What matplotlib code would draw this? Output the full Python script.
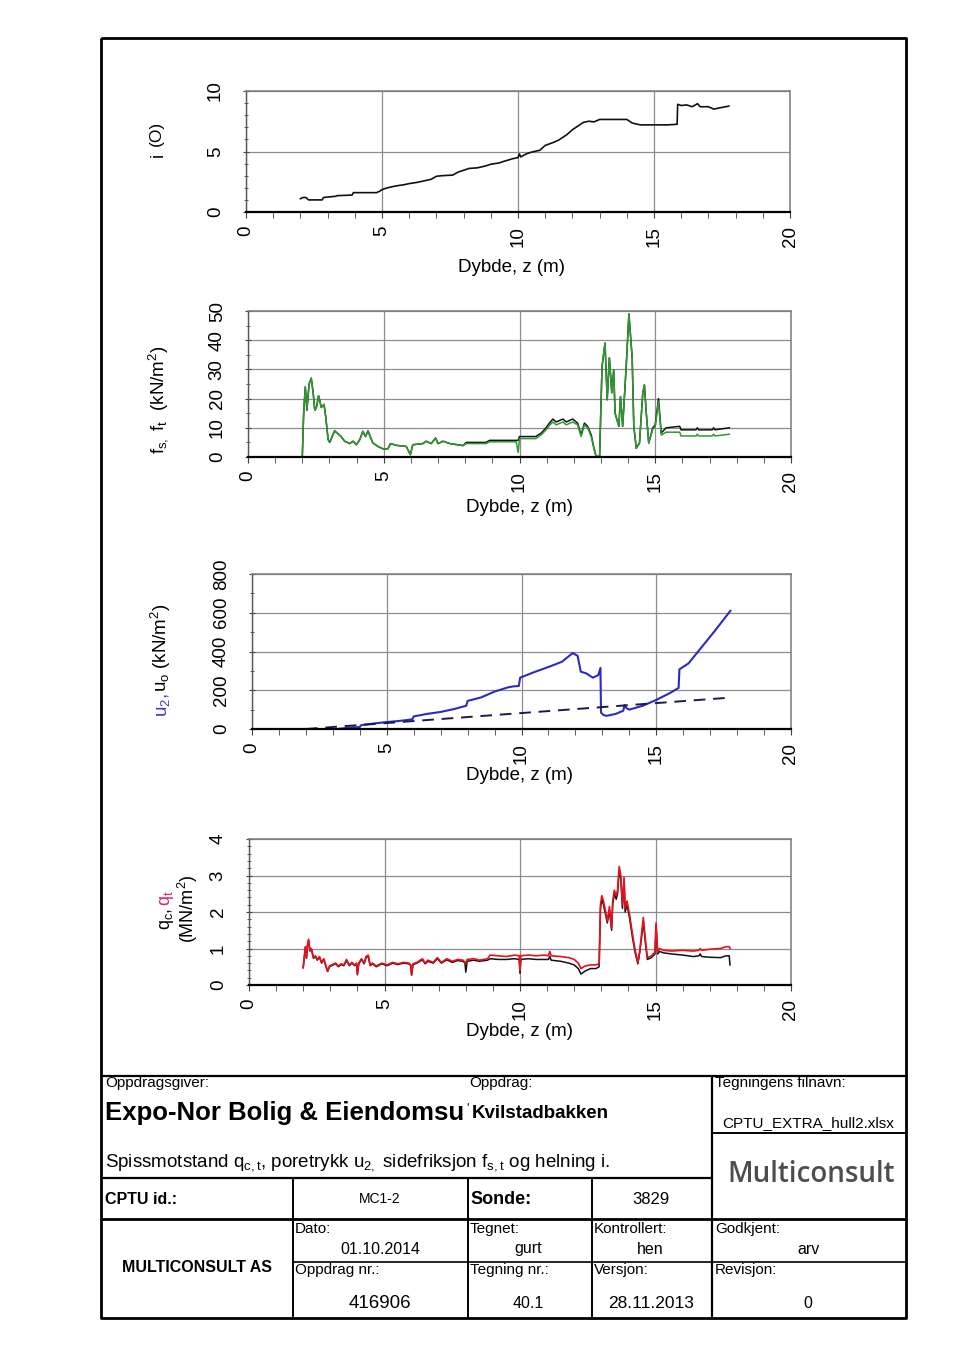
import matplotlib
matplotlib.use("Agg")
import matplotlib.pyplot as plt
from matplotlib.ticker import MultipleLocator
import numpy as np

plt.rcParams['font.family'] = ['Liberation Sans', 'DejaVu Sans']
plt.rcParams['mathtext.fontset'] = 'custom'
plt.rcParams['mathtext.rm'] = 'Liberation Sans'
plt.rcParams['mathtext.it'] = 'Liberation Sans:italic'
plt.rcParams['mathtext.bf'] = 'Liberation Sans:bold'

W, H = 960, 1358

# ---------------- data ----------------
# Panel 1: inclination i (deg)
incl_z = [2.0, 2.1, 2.2, 2.3, 2.35, 2.8, 2.85, 3.3, 3.35, 3.9, 3.95, 4.8, 4.9, 5.0, 5.2, 5.5,
          5.8, 6.0, 6.3, 6.5, 6.8, 7.0, 7.2, 7.6, 7.8, 8.0, 8.2, 8.5, 8.8, 9.0, 9.3, 9.5, 9.8,
          10.0, 10.05, 10.1, 10.3, 10.5, 10.8, 11.0, 11.3, 11.5, 11.8, 12.0, 12.2, 12.4, 12.6,
          12.8, 13.0, 13.5, 14.0, 14.2, 14.5, 15.0, 15.5, 15.85, 15.87, 16.0, 16.2, 16.4, 16.6,
          16.7, 17.0, 17.2, 17.4, 17.75]
incl_deg = [1.1, 1.2, 1.2, 1.0, 1.0, 1.0, 1.2, 1.3, 1.35, 1.4, 1.6, 1.6, 1.7, 1.85, 2.0, 2.15,
            2.25, 2.35, 2.45, 2.55, 2.7, 2.95, 3.0, 3.05, 3.3, 3.45, 3.6, 3.65, 3.8, 3.95, 4.05,
            4.2, 4.4, 4.5, 4.8, 4.55, 4.8, 4.95, 5.1, 5.5, 5.75, 5.95, 6.4, 6.8, 7.1, 7.4, 7.5,
            7.45, 7.65, 7.65, 7.65, 7.35, 7.2, 7.2, 7.2, 7.25, 8.9, 8.8, 8.85, 8.7, 8.95, 8.7,
            8.7, 8.5, 8.6, 8.75]

# Panel 2: sleeve friction fs (green) and ft (black), kN/m2
fric_z = [2.00, 2.05, 2.11, 2.17, 2.25, 2.33, 2.40, 2.46, 2.52, 2.60, 2.70, 2.80, 2.86, 2.95,
          3.01, 3.10, 3.19, 3.31, 3.43, 3.56, 3.74, 3.87, 3.99, 4.12, 4.23, 4.33, 4.42, 4.50,
          4.60, 4.79, 4.97, 5.15, 5.25, 5.46, 5.83, 5.98, 6.07, 6.44, 6.56, 6.75, 6.91, 7.00,
          7.18, 7.43, 7.92, 8.04, 8.77, 8.90, 9.88, 9.95, 10.00, 10.60, 10.80, 10.98, 11.10,
          11.23, 11.35, 11.60, 11.72, 11.96, 12.14, 12.27, 12.39, 12.51, 12.64, 12.73, 12.82,
          12.95, 13.04, 13.15, 13.23, 13.31, 13.40, 13.47, 13.52, 13.66, 13.72, 13.80, 13.93,
          14.03, 14.15, 14.21, 14.30, 14.42, 14.54, 14.60, 14.67, 14.76, 14.91, 15.00, 15.12,
          15.22, 15.40, 15.90, 15.95, 16.50, 16.55, 16.60, 17.10, 17.15, 17.20, 17.73]
fs_green = [0, 15, 24, 16, 25, 27, 22, 16, 17, 21, 17, 18, 14, 6,
            5, 7, 9, 8, 7, 5.4, 4.6, 5.4, 4.2, 6, 8.8, 7, 9, 7,
            4.8, 3.6, 2.8, 2.8, 4.6, 4.0, 3.6, 0.8, 4.2, 4.6, 5.4, 4.6, 6.5, 4.6,
            5.4, 4.6, 3.9, 4.6, 4.6, 5.2, 5.2, 1.5, 6.3, 6.3, 7.6, 9.3, 10.8,
            12.0, 11.0, 12.0, 11.0, 12.0, 11.0, 7.0, 11.0, 10.0, 7.0, 3.3, 0.2,
            0.2, 31, 39, 19.6, 34, 22, 29.8, 15, 10.5, 20.7, 10.5, 31,
            49, 34, 10.5, 3, 4.8, 21.9, 24.7, 15, 4.8, 9.5, 10.5, 19,
            7.5, 8.5, 8.5, 7.2, 7.2, 7.8, 7.2, 7.2, 7.8, 7.2, 7.8]
ft_black = [0, 15, 24, 16, 25, 27, 22, 16, 17, 21, 17, 18, 14, 6,
            5, 7, 9, 8, 7, 5.4, 4.6, 5.4, 4.2, 6, 8.8, 7, 9, 7,
            4.8, 3.6, 2.8, 2.8, 4.6, 4.0, 3.6, 0.8, 4.2, 4.6, 5.4, 4.6, 6.5, 4.6,
            5.4, 4.6, 3.9, 5.0, 5.0, 5.7, 5.7, 5.7, 7.0, 7.0, 8.2, 10.0, 11.6,
            13.0, 12.0, 13.0, 12.0, 13.0, 11.6, 7.6, 11.6, 10.5, 7.6, 3.6, 0.2,
            0.2, 31, 39, 19.6, 34, 22, 29.8, 15, 10.5, 20.7, 10.5, 31,
            49, 34, 10.5, 3, 4.8, 21.9, 24.7, 15, 4.8, 10, 11, 20,
            8.2, 10, 10.5, 9.3, 9.3, 10, 9.3, 9.3, 10, 9.3, 10]

# Panel 3: pore pressure u2 (blue) and hydrostatic u0 (dashed), kN/m2
u2_z = [2.0, 2.5, 3.0, 3.5, 3.7, 4.0, 4.05, 4.5, 5.0, 5.5, 5.95, 6.0, 6.5, 7.0, 7.5, 7.95,
        8.0, 8.5, 9.0, 9.5, 9.7, 9.9, 9.95, 10.5, 11.0, 11.5, 11.9, 12.08, 12.2, 12.4, 12.65,
        12.85, 12.93, 12.95, 13.04, 13.16, 13.5, 13.78, 13.82, 13.9, 14.0, 14.5, 15.0, 15.5,
        15.83, 15.86, 16.2, 16.7, 17.2, 17.75]
u2_val = [0, -2, -2, 5, 8, 10, 20, 28, 36, 42, 50, 65, 78, 88, 103, 120,
          145, 163, 193, 215, 220, 222, 265, 295, 320, 347, 392, 378, 296, 287, 265,
          278, 315, 85, 72, 68, 78, 95, 124, 107, 100, 120, 150, 185,
          212, 308, 339, 425, 511, 610]
u0_z = [2.0, 17.75]
u0_val = [0, 162]

# Panel 4: cone resistance qc (black) and qt (red), MN/m2
q_z = [2.0, 2.08, 2.12, 2.16, 2.2, 2.25, 2.3, 2.38, 2.45, 2.52, 2.6, 2.68, 2.76, 2.83, 2.9,
       2.97, 3.05, 3.2, 3.3, 3.4, 3.5, 3.6, 3.7, 3.8, 3.9, 3.97, 4.0, 4.05, 4.15, 4.25, 4.32,
       4.4, 4.47, 4.55, 4.7, 4.9, 5.1, 5.3, 5.5, 5.7, 5.9, 5.97, 6.0, 6.05, 6.2, 6.4, 6.5,
       6.6, 6.8, 6.95, 7.1, 7.3, 7.5, 7.7, 7.9, 7.97, 8.0, 8.05, 8.3, 8.5, 8.8, 8.9, 9.2,
       9.5, 9.8, 9.97, 10.0, 10.03, 10.3, 10.6, 10.9, 11.05, 11.1, 11.15, 11.5, 11.8, 12.0,
       12.15, 12.25, 12.4, 12.6, 12.8, 12.92, 12.97, 13.02, 13.08, 13.15, 13.22, 13.3, 13.38,
       13.42, 13.48, 13.55, 13.6, 13.66, 13.72, 13.78, 13.84, 13.88, 13.95, 14.05, 14.15,
       14.25, 14.35, 14.42, 14.5, 14.55, 14.62, 14.7, 14.85, 14.98, 15.02, 15.08, 15.15,
       15.3, 15.6, 16.0, 16.4, 16.6, 16.65, 16.7, 17.0, 17.4, 17.6, 17.72, 17.75]
qt_red = [0.48, 1.05, 0.75, 1.1, 1.25, 0.95, 1.0, 0.75, 0.8, 0.7, 0.78, 0.62, 0.72, 0.55, 0.38,
          0.52, 0.55, 0.6, 0.52, 0.58, 0.55, 0.7, 0.55, 0.62, 0.55, 0.6, 0.3, 0.6, 0.72, 0.6, 0.78,
          0.82, 0.55, 0.6, 0.52, 0.6, 0.55, 0.62, 0.58, 0.62, 0.6, 0.55, 0.28, 0.58, 0.62, 0.72, 0.6,
          0.68, 0.62, 0.75, 0.62, 0.72, 0.65, 0.7, 0.68, 0.62, 0.6, 0.7, 0.72, 0.68, 0.72, 0.82, 0.8,
          0.78, 0.82, 0.8, 0.4, 0.8, 0.82, 0.8, 0.82, 0.8, 0.92, 0.8, 0.78, 0.75, 0.7,
          0.6, 0.45, 0.52, 0.55, 0.55, 0.58, 2.2, 2.45, 2.3, 2.05, 1.75, 2.15, 1.55,
          2.3, 2.6, 2.45, 2.6, 3.25, 3.0, 2.2, 2.95, 2.1, 2.3, 1.9, 1.4,
          0.95, 0.62, 0.95, 1.5, 1.85, 1.3, 0.75, 0.8, 0.9, 1.7, 0.9, 1.0,
          0.95, 0.93, 0.95, 0.93, 0.95, 1.0, 0.95, 0.98, 1.0, 1.05, 1.05, 1.0]
qc_black = [0.47, 1.03, 0.73, 1.08, 1.22, 0.93, 0.98, 0.73, 0.78, 0.68, 0.76, 0.6, 0.7, 0.53, 0.37,
            0.5, 0.53, 0.58, 0.5, 0.56, 0.53, 0.67, 0.53, 0.6, 0.53, 0.58, 0.28, 0.58, 0.7, 0.58, 0.75,
            0.79, 0.53, 0.58, 0.5, 0.58, 0.53, 0.6, 0.56, 0.6, 0.58, 0.53, 0.27, 0.56, 0.6, 0.69, 0.58,
            0.65, 0.6, 0.72, 0.6, 0.69, 0.62, 0.67, 0.65, 0.6, 0.35, 0.65, 0.68, 0.65, 0.68, 0.72, 0.7,
            0.7, 0.72, 0.7, 0.32, 0.7, 0.72, 0.7, 0.7, 0.7, 0.78, 0.68, 0.65, 0.6, 0.55,
            0.45, 0.3, 0.38, 0.45, 0.45, 0.5, 2.1, 2.35, 2.2, 1.95, 1.7, 2.05, 1.5,
            2.2, 2.5, 2.35, 2.5, 3.15, 2.9, 2.1, 2.85, 2.0, 2.2, 1.8, 1.3,
            0.88, 0.58, 0.9, 1.4, 1.75, 1.2, 0.7, 0.75, 0.85, 1.6, 0.85, 0.92,
            0.88, 0.85, 0.82, 0.78, 0.8, 0.85, 0.78, 0.76, 0.75, 0.8, 0.8, 0.55]

x_ticks = [0, 5, 10, 15, 20]
x_label = "Dybde, z (m)"

# ---------------- figure ----------------
fig = plt.figure(figsize=(W / 100, H / 100), dpi=100)


def px_axes(l, t, r, b):
    return fig.add_axes([l / W, 1 - b / H, (r - l) / W, (b - t) / H])


TICK_FS = 13.5
GRID_C = '#8c8c8c'


def style(ax, ymax, ystep, yminor):
    ax.set_xlim(0, 20)
    ax.set_ylim(0, ymax)
    ax.set_xticks(x_ticks)
    ax.xaxis.set_minor_locator(MultipleLocator(1))
    ax.set_yticks(np.arange(0, ymax + ystep / 2, ystep))
    ax.yaxis.set_minor_locator(MultipleLocator(yminor))
    ax.grid(True, which='major', color=GRID_C, lw=0.9)
    ax.set_axisbelow(True)
    for s in ['top', 'right']:
        ax.spines[s].set_color('#7a7a7a')
        ax.spines[s].set_linewidth(1.1)
    ax.spines['left'].set_color('#555555')
    ax.spines['left'].set_linewidth(1.0)
    ax.spines['bottom'].set_color('black')
    ax.spines['bottom'].set_linewidth(1.6)
    ax.tick_params(axis='x', which='both', direction='out', colors='#444444', labelcolor='black',
                   labelsize=TICK_FS, labelrotation=90, pad=6)
    ax.tick_params(axis='x', which='major', length=4)
    ax.tick_params(axis='x', which='minor', length=4)
    ax.tick_params(axis='y', which='both', direction='inout', colors='#444444', labelcolor='black',
                   labelsize=TICK_FS, pad=14)
    ax.tick_params(axis='y', which='major', length=4)
    ax.tick_params(axis='y', which='minor', length=3)
    for lab in ax.get_yticklabels():
        lab.set_rotation(90)
        lab.set_va('center')
    ax.set_facecolor('white')


ax1 = px_axes(246, 91, 790, 212)
ax1.plot(incl_z, incl_deg, color='#111111', lw=1.2)
style(ax1, 10, 5, 1)

ax2 = px_axes(248, 311, 791, 457)
ax2.plot(fric_z, ft_black, color='#111111', lw=1.1)
ax2.plot(fric_z, fs_green, color='#2e9a2e', lw=1.1)
style(ax2, 50, 10, 5)

ax3 = px_axes(252, 574, 791, 729)
ax3.plot(u2_z, u2_val, color='#2b2bbf', lw=1.5)
ax3.plot(u0_z, u0_val, color='#1a1a50', lw=1.4, ls=(0, (6, 4)))
style(ax3, 800, 200, 100)

ax4 = px_axes(249, 839, 791, 985)
ax4.plot(q_z, qc_black, color='#111111', lw=1.1)
ax4.plot(q_z, qt_red, color='#e8101e', lw=1.2)
style(ax4, 4, 1, 0.2)

for (xc, yc) in [(511, 268), (519, 507), (520, 776), (519, 1032)]:
    fig.text(xc / W, 1 - yc / H, x_label, ha='center', va='center', fontsize=13.5)

renderer = fig.canvas.get_renderer()


def vlabel(x_base, y_center, pieces, fs=13.5):
    ts = []
    for s, c in pieces:
        t = fig.text(0, 0, s, color=c, rotation=90, rotation_mode='anchor',
                     ha='left', va='baseline', fontsize=fs)
        ts.append(t)
    hs = [t.get_window_extent(renderer).height for t in ts]
    total = sum(hs)
    y0 = (H - y_center) - total / 2
    for t, h in zip(ts, hs):
        t.set_position((x_base / W, y0 / H))
        y0 += h


vlabel(163, 155, [("i", 'black')])
vlabel(161, 133, [("(O)", 'black')], fs=12.5)
vlabel(163, 400, [(r"f$\mathregular{_{s,}}$ f$\mathregular{_{t}}$  (kN/m$\mathregular{^2}$)", 'black')])
vlabel(167, 660, [(r"u$\mathregular{_2}$, ", '#3a3ac8'), (r"u$\mathregular{_o}$ (kN/m$\mathregular{^2}$)", 'black')])
vlabel(170, 910, [(r"q$\mathregular{_c}$, ", 'black'), (r"q$\mathregular{_t}$", '#e0206a')], fs=13)
vlabel(194, 909, [(r"(MN/m$\mathregular{^2}$)", 'black')], fs=13)

# ---------------- frame & title block ----------------
ov = fig.add_axes([0, 0, 1, 1], zorder=5)
ov.set_xlim(0, W)
ov.set_ylim(H, 0)
ov.axis('off')
ov.patch.set_visible(False)

K = dict(color='black', solid_capstyle='butt')
ov.plot([101, 906, 906, 101, 101], [38, 38, 1318, 1318, 38], lw=2.0, **K)
ov.plot([101, 906], [1076, 1076], lw=1.6, **K)
ov.plot([712, 712], [1076, 1318], lw=1.6, **K)
ov.plot([712, 906], [1133, 1133], lw=1.4, **K)
ov.plot([101, 712], [1178, 1178], lw=1.6, **K)
ov.plot([101, 906], [1219, 1219], lw=2.0, **K)
ov.plot([293, 906], [1262, 1262], lw=1.2, **K)
for xv in [293, 468, 592]:
    ov.plot([xv, xv], [1178, 1318], lw=1.4, **K)


def tt(x, y, s, fs=11, ha='left', weight='normal', color='black', fam=None):
    kw = {}
    if fam is not None:
        kw['family'] = fam
    ov.text(x, y, s, fontsize=fs, ha=ha, va='center', weight=weight, color=color, **kw)


tt(105, 1083, "Oppdragsgiver:", 11)
tt(469, 1083, "Oppdrag:", 11)
tt(715, 1083, "Tegningens filnavn:", 11)
tt(105, 1113, "Expo-Nor Bolig & Eiendomsu", 18.5, weight='bold')
tt(466, 1108, "'", 9)
tt(472, 1113, "Kvilstadbakken", 13.5, weight='bold')
tt(808, 1123, "CPTU_EXTRA_hull2.xlsx", 11, ha='center')
tt(105, 1163, r"Spissmotstand q$\mathregular{_{c,t}}$, poretrykk u$\mathregular{_{2,}}$ sidefriksjon f$\mathregular{_{s,t}}$ og helning i.", 13.5)
tt(811, 1175, "Multiconsult", 20, ha='center', color='#4d4d4d', weight='semibold',
   fam=['Open Sans', 'DejaVu Sans'])
tt(105, 1199, "CPTU id.:", 11.5, weight='bold')
tt(380, 1199, "MC1-2", 10, ha='center')
tt(470, 1199, "Sonde:", 13, weight='bold')
tt(651, 1199, "3829", 12, ha='center')
tt(295, 1229, "Dato:", 11)
tt(380, 1249, "01.10.2014", 11.5, ha='center')
tt(470, 1229, "Tegnet:", 11)
tt(528, 1249, "gurt", 11.5, ha='center')
tt(594, 1229, "Kontrollert:", 11)
tt(650, 1249, "hen", 11.5, ha='center')
tt(715, 1229, "Godkjent:", 11)
tt(808, 1249, "arv", 11.5, ha='center')
tt(197, 1267, "MULTICONSULT AS", 11.5, ha='center', weight='bold')
tt(295, 1270, "Oppdrag nr.:", 11)
tt(380, 1304, "416906", 13.5, ha='center')
tt(470, 1270, "Tegning nr.:", 11)
tt(528, 1304, "40.1", 11.5, ha='center')
tt(594, 1270, "Versjon:", 11)
tt(651, 1304, "28.11.2013", 12.5, ha='center')
tt(715, 1270, "Revisjon:", 11)
tt(808, 1304, "0", 11.5, ha='center')

fig.savefig("out.png", dpi=100, facecolor='white')
